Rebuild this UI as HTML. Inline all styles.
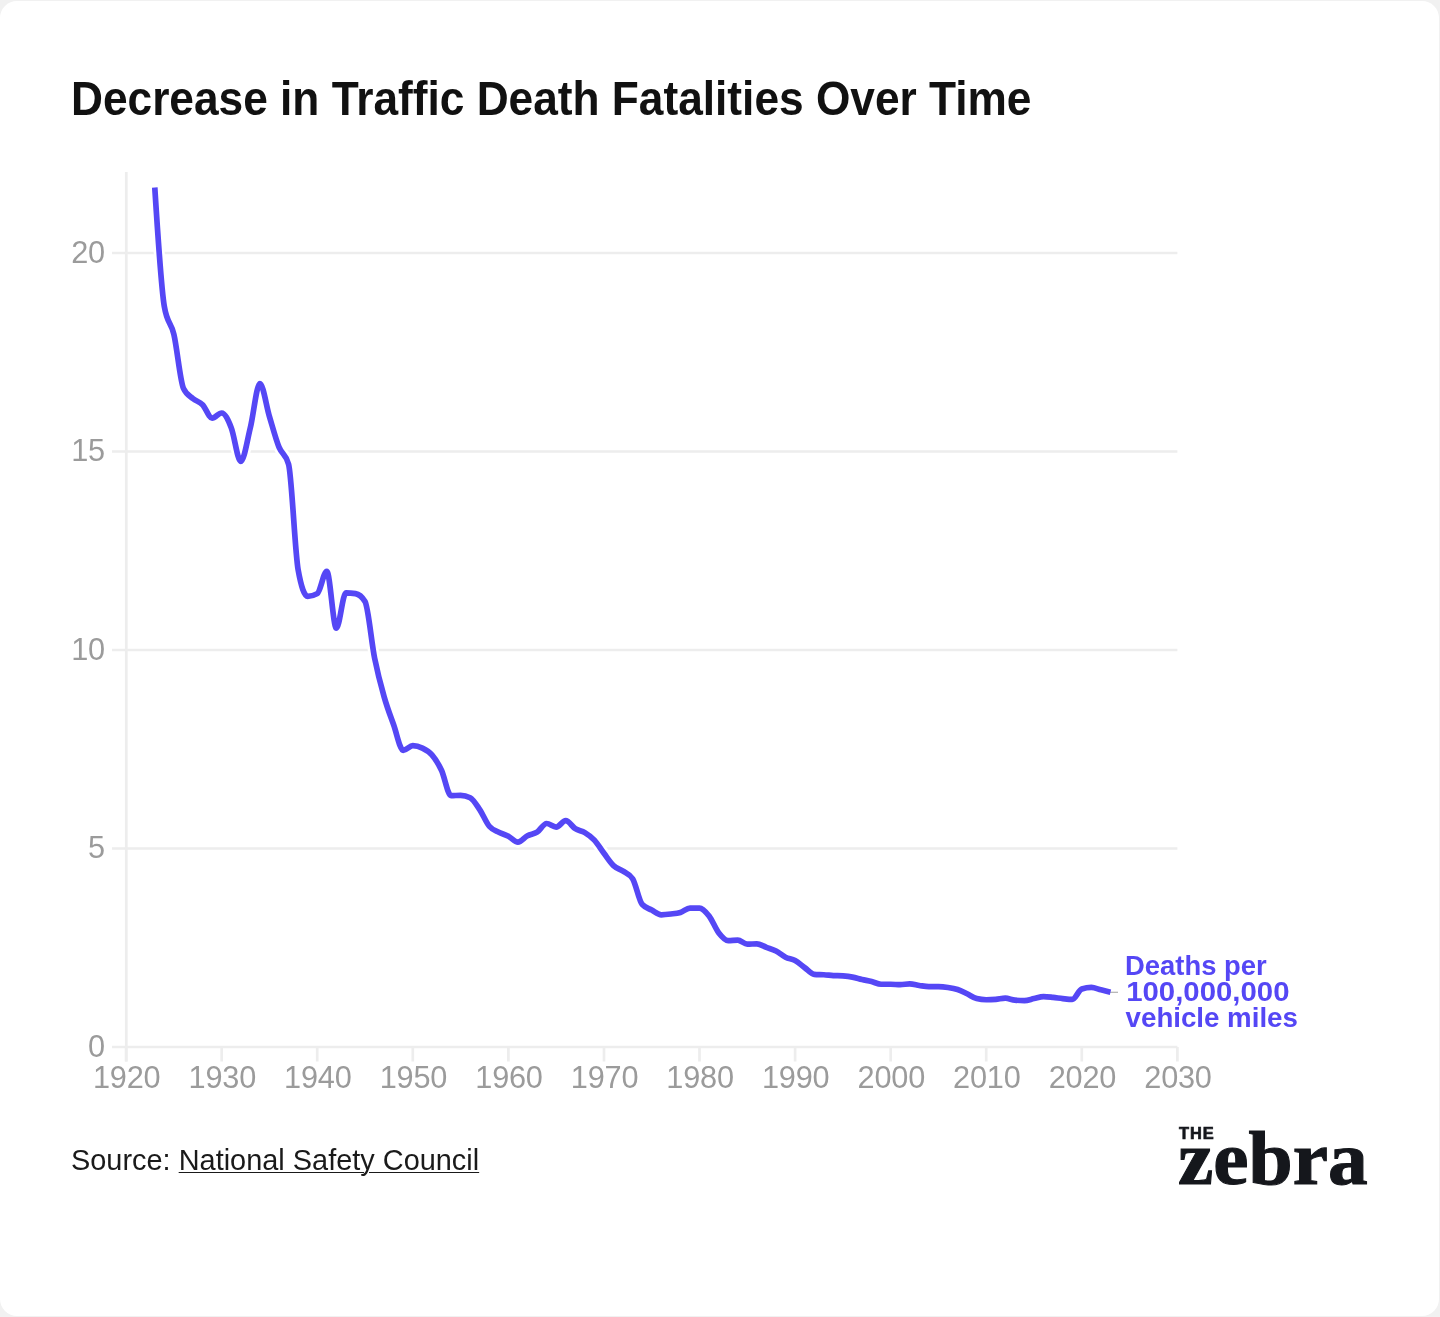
<!DOCTYPE html>
<html lang="en"><head><meta charset="utf-8"><title>Decrease in Traffic Death Fatalities Over Time</title>
<style>
html,body{margin:0;padding:0;}
body{width:1440px;height:1317px;background:#f1f1f1;overflow:hidden;position:relative;font-family:"Liberation Sans",sans-serif;}
.card{position:absolute;left:0;top:1px;width:1439px;height:1315px;background:#fff;border-radius:17px;}
h1{position:absolute;left:71px;top:70.5px;margin:0;font-size:48px;line-height:56px;font-weight:bold;color:#111;white-space:nowrap;transform-origin:0 0;transform:scaleX(0.9215);}
svg.chart{position:absolute;left:0;top:0;}
.grid line{stroke:#ededed;stroke-width:2.7;}
.lbl text{font-family:"Liberation Sans",sans-serif;font-size:30.7px;fill:#9b9b9b;letter-spacing:-0.2px;}
.ann text{font-family:"Liberation Sans",sans-serif;font-size:28.3px;font-weight:bold;fill:#5547f5;}
.src{position:absolute;left:71px;top:1143px;font-size:28.6px;line-height:34px;transform-origin:0 0;transform:scaleX(1.011);color:#1a1a1a;white-space:nowrap;}
.src a{color:#1a1a1a;text-decoration:underline;text-decoration-thickness:1.4px;text-underline-offset:2.2px;}
.logo{position:absolute;left:1178px;top:1120px;color:#15171c;}
.logo .the{position:absolute;left:1px;top:4.9px;font-family:"Liberation Sans",sans-serif;font-weight:bold;font-size:16.4px;line-height:17px;letter-spacing:0.9px;-webkit-text-stroke:0.7px #15171c;}
.logo .zebra{position:absolute;left:-0.5px;top:-1px;font-family:"Liberation Serif",serif;font-weight:bold;font-size:76px;line-height:78px;-webkit-text-stroke:1.1px #15171c;transform-origin:0 0;transform:scaleX(1.045);white-space:nowrap;}
</style></head><body>
<div class="card"></div>
<h1>Decrease in Traffic Death Fatalities Over Time</h1>
<svg class="chart" width="1440" height="1317" viewBox="0 0 1440 1317">
<g class="grid"><line x1="112" x2="1177.4" y1="1047.0" y2="1047.0"/><line x1="112" x2="1177.4" y1="848.5" y2="848.5"/><line x1="112" x2="1177.4" y1="650.0" y2="650.0"/><line x1="112" x2="1177.4" y1="451.5" y2="451.5"/><line x1="112" x2="1177.4" y1="253.0" y2="253.0"/><line x1="126.3" x2="126.3" y1="172" y2="1061.5"/><line x1="126.1" x2="126.1" y1="1047" y2="1061.5"/><line x1="221.7" x2="221.7" y1="1047" y2="1061.5"/><line x1="317.2" x2="317.2" y1="1047" y2="1061.5"/><line x1="412.8" x2="412.8" y1="1047" y2="1061.5"/><line x1="508.4" x2="508.4" y1="1047" y2="1061.5"/><line x1="604.0" x2="604.0" y1="1047" y2="1061.5"/><line x1="699.5" x2="699.5" y1="1047" y2="1061.5"/><line x1="795.1" x2="795.1" y1="1047" y2="1061.5"/><line x1="890.7" x2="890.7" y1="1047" y2="1061.5"/><line x1="986.2" x2="986.2" y1="1047" y2="1061.5"/><line x1="1081.8" x2="1081.8" y1="1047" y2="1061.5"/><line x1="1177.4" x2="1177.4" y1="1047" y2="1061.5"/></g>
<g class="lbl"><text x="104.9" y="1056.8" text-anchor="end">0</text><text x="104.9" y="858.3" text-anchor="end">5</text><text x="104.9" y="659.8" text-anchor="end">10</text><text x="104.9" y="461.3" text-anchor="end">15</text><text x="104.9" y="262.8" text-anchor="end">20</text><text x="126.7" y="1088" text-anchor="middle">1920</text><text x="222.3" y="1088" text-anchor="middle">1930</text><text x="317.8" y="1088" text-anchor="middle">1940</text><text x="413.4" y="1088" text-anchor="middle">1950</text><text x="509.0" y="1088" text-anchor="middle">1960</text><text x="604.6" y="1088" text-anchor="middle">1970</text><text x="700.1" y="1088" text-anchor="middle">1980</text><text x="795.7" y="1088" text-anchor="middle">1990</text><text x="891.3" y="1088" text-anchor="middle">2000</text><text x="986.8" y="1088" text-anchor="middle">2010</text><text x="1082.4" y="1088" text-anchor="middle">2020</text><text x="1178.0" y="1088" text-anchor="middle">2030</text></g>
<path d="M154.77,187.50C157.96,237.78,161.14,288.07,164.33,306.60C167.51,325.12,170.70,320.75,173.88,334.38C177.07,348.02,180.26,381.50,183.44,388.38C186.63,395.26,189.81,395.99,193.00,398.70C196.18,401.41,199.37,401.41,202.56,404.65C205.74,407.90,208.93,418.15,212.11,418.15C215.30,418.15,218.48,412.99,221.67,412.99C224.86,412.99,228.04,419.61,231.23,427.68C234.41,435.75,237.60,461.42,240.78,461.42C243.97,461.42,247.16,440.65,250.34,427.68C253.53,414.71,256.71,383.61,259.90,383.61C263.08,383.61,266.27,405.98,269.46,416.56C272.64,427.15,275.83,439.19,279.01,447.13C282.20,455.07,285.38,452.82,288.57,464.20C291.75,475.58,294.94,552.07,298.13,569.81C301.31,587.54,304.50,596.40,307.68,596.40C310.87,596.40,314.05,595.48,317.24,593.63C320.43,591.77,323.61,571.39,326.80,571.39C329.98,571.39,333.17,628.16,336.35,628.16C339.54,628.16,342.73,592.83,345.91,592.83C349.10,592.83,352.28,593.10,355.47,593.63C358.65,594.16,361.84,596.27,365.02,601.57C368.21,606.86,371.40,642.06,374.58,657.94C377.77,673.82,380.95,685.66,384.14,696.85C387.32,708.03,390.51,716.10,393.70,725.03C396.88,733.97,400.07,750.44,403.25,750.44C406.44,750.44,409.62,745.68,412.81,745.68C416.00,745.68,419.18,746.54,422.37,748.06C425.55,749.58,428.74,751.10,431.92,754.81C435.11,758.51,438.30,763.48,441.48,770.29C444.67,777.11,447.85,795.70,451.04,795.70C454.22,795.70,457.41,795.30,460.60,795.30C463.78,795.30,466.97,796.10,470.15,797.68C473.34,799.27,476.52,804.83,479.71,809.59C482.89,814.36,486.08,822.50,489.27,826.27C492.45,830.04,495.64,830.57,498.82,832.22C502.01,833.88,505.19,834.54,508.38,836.19C511.57,837.85,514.75,842.15,517.94,842.15C521.12,842.15,524.31,837.45,527.49,835.80C530.68,834.14,533.87,834.27,537.05,832.22C540.24,830.17,543.42,823.49,546.61,823.49C549.79,823.49,552.98,827.06,556.16,827.06C559.35,827.06,562.54,820.71,565.72,820.71C568.91,820.71,572.09,826.66,575.28,828.65C578.46,830.63,581.65,830.70,584.84,832.62C588.02,834.54,591.21,836.72,594.39,840.16C597.58,843.60,600.76,849.03,603.95,853.26C607.14,857.50,610.32,862.59,613.51,865.57C616.69,868.55,619.88,868.95,623.06,871.13C626.25,873.31,629.44,873.64,632.62,878.67C635.81,883.70,638.99,900.77,642.18,904.48C645.36,908.18,648.55,908.31,651.74,910.03C654.92,911.76,658.11,914.80,661.29,914.80C664.48,914.80,667.66,914.40,670.85,914.00C674.03,913.61,677.22,913.41,680.41,912.42C683.59,911.42,686.78,908.05,689.96,908.05C693.15,908.05,696.33,908.05,699.52,908.05C702.71,908.05,705.89,911.89,709.08,915.99C712.26,920.09,715.45,928.56,718.63,932.66C721.82,936.77,725.01,940.60,728.19,940.60C731.38,940.60,734.56,940.21,737.75,940.21C740.93,940.21,744.12,944.18,747.31,944.18C750.49,944.18,753.68,943.78,756.86,943.78C760.05,943.78,763.23,946.16,766.42,947.35C769.60,948.54,772.79,949.27,775.98,950.93C779.16,952.58,782.35,955.69,785.53,957.28C788.72,958.87,791.90,958.73,795.09,960.45C798.28,962.17,801.46,965.28,804.65,967.60C807.83,969.92,811.02,974.08,814.20,974.35C817.39,974.61,820.58,974.55,823.76,974.75C826.95,974.94,830.13,975.34,833.32,975.54C836.50,975.74,839.69,975.67,842.88,975.94C846.06,976.20,849.25,976.53,852.43,977.13C855.62,977.72,858.80,978.78,861.99,979.51C865.17,980.24,868.36,980.70,871.55,981.50C874.73,982.29,877.92,984.27,881.10,984.27C884.29,984.27,887.47,984.27,890.66,984.27C893.85,984.27,897.03,984.67,900.22,984.67C903.40,984.67,906.59,983.88,909.77,983.88C912.96,983.88,916.15,985.00,919.33,985.47C922.52,985.93,925.70,986.66,928.89,986.66C932.07,986.66,935.26,986.66,938.45,986.66C941.63,986.66,944.82,986.99,948.00,987.45C951.19,987.91,954.37,988.38,957.56,989.43C960.74,990.49,963.93,992.28,967.12,993.80C970.30,995.32,973.49,997.77,976.67,998.57C979.86,999.36,983.04,999.76,986.23,999.76C989.42,999.76,992.60,999.62,995.79,999.36C998.97,999.10,1002.16,998.17,1005.34,998.17C1008.53,998.17,1011.72,999.89,1014.90,1000.15C1018.09,1000.42,1021.27,1000.55,1024.46,1000.55C1027.64,1000.55,1030.83,999.23,1034.02,998.57C1037.20,997.90,1040.39,996.58,1043.57,996.58C1046.76,996.58,1049.94,997.04,1053.13,997.38C1056.31,997.71,1059.50,998.24,1062.69,998.57C1065.87,998.90,1069.06,999.36,1072.24,999.36C1075.43,999.36,1078.61,990.10,1081.80,989.04C1084.99,987.98,1088.17,987.45,1091.36,987.45C1094.54,987.45,1097.73,989.04,1100.91,989.83C1104.10,990.63,1107.29,991.42,1110.47,992.21" fill="none" stroke="#fff" stroke-width="11" stroke-linejoin="round" stroke-linecap="butt"/>
<line x1="1110" x2="1118" y1="992.3" y2="992.3" stroke="#b0b0b0" stroke-width="1.2"/>
<path d="M154.77,187.50C157.96,237.78,161.14,288.07,164.33,306.60C167.51,325.12,170.70,320.75,173.88,334.38C177.07,348.02,180.26,381.50,183.44,388.38C186.63,395.26,189.81,395.99,193.00,398.70C196.18,401.41,199.37,401.41,202.56,404.65C205.74,407.90,208.93,418.15,212.11,418.15C215.30,418.15,218.48,412.99,221.67,412.99C224.86,412.99,228.04,419.61,231.23,427.68C234.41,435.75,237.60,461.42,240.78,461.42C243.97,461.42,247.16,440.65,250.34,427.68C253.53,414.71,256.71,383.61,259.90,383.61C263.08,383.61,266.27,405.98,269.46,416.56C272.64,427.15,275.83,439.19,279.01,447.13C282.20,455.07,285.38,452.82,288.57,464.20C291.75,475.58,294.94,552.07,298.13,569.81C301.31,587.54,304.50,596.40,307.68,596.40C310.87,596.40,314.05,595.48,317.24,593.63C320.43,591.77,323.61,571.39,326.80,571.39C329.98,571.39,333.17,628.16,336.35,628.16C339.54,628.16,342.73,592.83,345.91,592.83C349.10,592.83,352.28,593.10,355.47,593.63C358.65,594.16,361.84,596.27,365.02,601.57C368.21,606.86,371.40,642.06,374.58,657.94C377.77,673.82,380.95,685.66,384.14,696.85C387.32,708.03,390.51,716.10,393.70,725.03C396.88,733.97,400.07,750.44,403.25,750.44C406.44,750.44,409.62,745.68,412.81,745.68C416.00,745.68,419.18,746.54,422.37,748.06C425.55,749.58,428.74,751.10,431.92,754.81C435.11,758.51,438.30,763.48,441.48,770.29C444.67,777.11,447.85,795.70,451.04,795.70C454.22,795.70,457.41,795.30,460.60,795.30C463.78,795.30,466.97,796.10,470.15,797.68C473.34,799.27,476.52,804.83,479.71,809.59C482.89,814.36,486.08,822.50,489.27,826.27C492.45,830.04,495.64,830.57,498.82,832.22C502.01,833.88,505.19,834.54,508.38,836.19C511.57,837.85,514.75,842.15,517.94,842.15C521.12,842.15,524.31,837.45,527.49,835.80C530.68,834.14,533.87,834.27,537.05,832.22C540.24,830.17,543.42,823.49,546.61,823.49C549.79,823.49,552.98,827.06,556.16,827.06C559.35,827.06,562.54,820.71,565.72,820.71C568.91,820.71,572.09,826.66,575.28,828.65C578.46,830.63,581.65,830.70,584.84,832.62C588.02,834.54,591.21,836.72,594.39,840.16C597.58,843.60,600.76,849.03,603.95,853.26C607.14,857.50,610.32,862.59,613.51,865.57C616.69,868.55,619.88,868.95,623.06,871.13C626.25,873.31,629.44,873.64,632.62,878.67C635.81,883.70,638.99,900.77,642.18,904.48C645.36,908.18,648.55,908.31,651.74,910.03C654.92,911.76,658.11,914.80,661.29,914.80C664.48,914.80,667.66,914.40,670.85,914.00C674.03,913.61,677.22,913.41,680.41,912.42C683.59,911.42,686.78,908.05,689.96,908.05C693.15,908.05,696.33,908.05,699.52,908.05C702.71,908.05,705.89,911.89,709.08,915.99C712.26,920.09,715.45,928.56,718.63,932.66C721.82,936.77,725.01,940.60,728.19,940.60C731.38,940.60,734.56,940.21,737.75,940.21C740.93,940.21,744.12,944.18,747.31,944.18C750.49,944.18,753.68,943.78,756.86,943.78C760.05,943.78,763.23,946.16,766.42,947.35C769.60,948.54,772.79,949.27,775.98,950.93C779.16,952.58,782.35,955.69,785.53,957.28C788.72,958.87,791.90,958.73,795.09,960.45C798.28,962.17,801.46,965.28,804.65,967.60C807.83,969.92,811.02,974.08,814.20,974.35C817.39,974.61,820.58,974.55,823.76,974.75C826.95,974.94,830.13,975.34,833.32,975.54C836.50,975.74,839.69,975.67,842.88,975.94C846.06,976.20,849.25,976.53,852.43,977.13C855.62,977.72,858.80,978.78,861.99,979.51C865.17,980.24,868.36,980.70,871.55,981.50C874.73,982.29,877.92,984.27,881.10,984.27C884.29,984.27,887.47,984.27,890.66,984.27C893.85,984.27,897.03,984.67,900.22,984.67C903.40,984.67,906.59,983.88,909.77,983.88C912.96,983.88,916.15,985.00,919.33,985.47C922.52,985.93,925.70,986.66,928.89,986.66C932.07,986.66,935.26,986.66,938.45,986.66C941.63,986.66,944.82,986.99,948.00,987.45C951.19,987.91,954.37,988.38,957.56,989.43C960.74,990.49,963.93,992.28,967.12,993.80C970.30,995.32,973.49,997.77,976.67,998.57C979.86,999.36,983.04,999.76,986.23,999.76C989.42,999.76,992.60,999.62,995.79,999.36C998.97,999.10,1002.16,998.17,1005.34,998.17C1008.53,998.17,1011.72,999.89,1014.90,1000.15C1018.09,1000.42,1021.27,1000.55,1024.46,1000.55C1027.64,1000.55,1030.83,999.23,1034.02,998.57C1037.20,997.90,1040.39,996.58,1043.57,996.58C1046.76,996.58,1049.94,997.04,1053.13,997.38C1056.31,997.71,1059.50,998.24,1062.69,998.57C1065.87,998.90,1069.06,999.36,1072.24,999.36C1075.43,999.36,1078.61,990.10,1081.80,989.04C1084.99,987.98,1088.17,987.45,1091.36,987.45C1094.54,987.45,1097.73,989.04,1100.91,989.83C1104.10,990.63,1107.29,991.42,1110.47,992.21" fill="none" stroke="#5547f5" stroke-width="5.7" stroke-linejoin="round" stroke-linecap="butt"/>
<g class="ann"><text transform="translate(1125,975) scale(0.969,1)">Deaths per</text><text transform="translate(1126.2,1001.2) scale(1.038,1)">100,000,000</text><text transform="translate(1125.6,1027.2) scale(0.978,1)">vehicle miles</text></g>
</svg>
<div class="src">Source: <a>National Safety Council</a></div>
<div class="logo"><div class="zebra">zebra</div><div class="the">THE</div></div>
</body></html>
